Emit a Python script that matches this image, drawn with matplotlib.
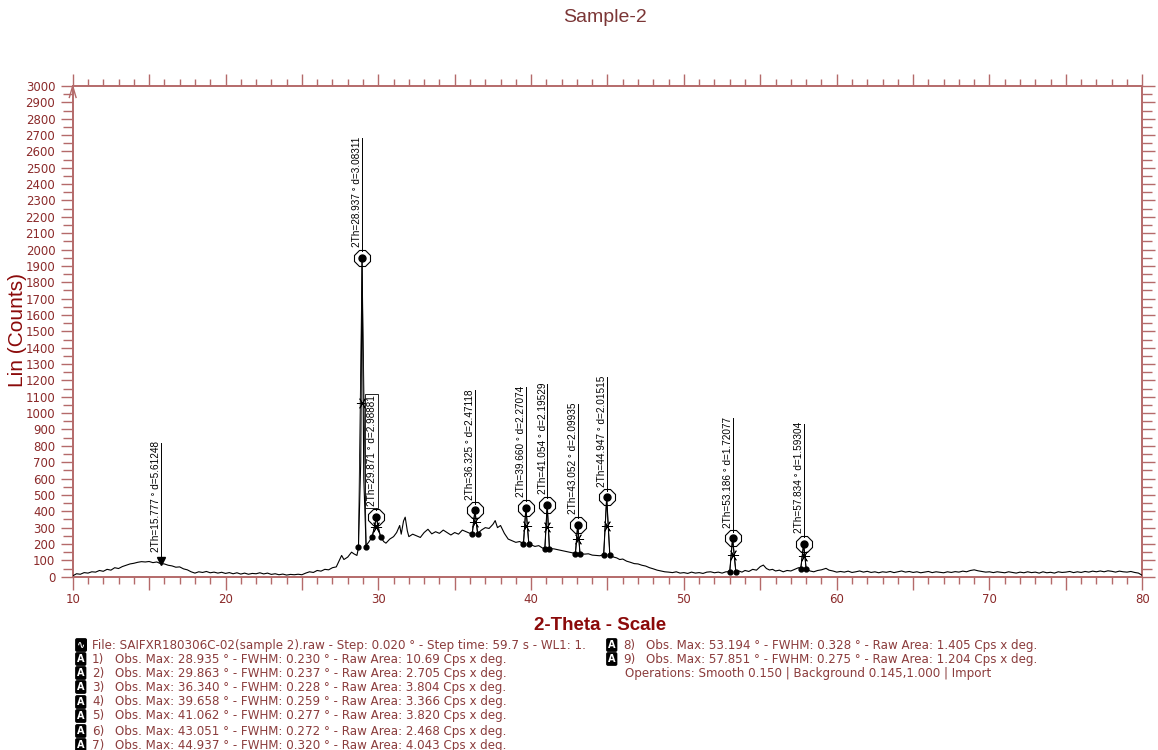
import matplotlib
matplotlib.use("Agg")
import matplotlib.pyplot as plt
from matplotlib.ticker import MultipleLocator, FuncFormatter

# scan: 2-theta (deg) and counts
two_theta = [
    10.0, 10.25, 10.5, 10.75, 11.0, 11.25, 11.5, 11.75, 12.0, 12.25, 12.5, 12.75,
    13.0, 13.25, 13.5, 13.75, 14.0, 14.25, 14.5, 14.75, 15.0, 15.25, 15.5, 15.75,
    16.0, 16.25, 16.5, 16.75, 17.0, 17.25, 17.5, 17.75, 18.0, 18.25, 18.5, 18.75,
    19.0, 19.25, 19.5, 19.75, 20.0, 20.25, 20.5, 20.75, 21.0, 21.25, 21.5, 21.75,
    22.0, 22.25, 22.5, 22.75, 23.0, 23.25, 23.5, 23.75, 24.0, 24.25, 24.5, 24.75,
    25.0, 25.25, 25.5, 25.75, 26.0, 26.25, 26.5, 26.75, 27.0, 27.25, 27.5, 27.6,
    27.75, 28.0, 28.25, 28.4, 28.6, 28.7, 28.85, 28.937, 29.05, 29.2, 29.4, 29.6,
    29.75, 29.871, 30.0, 30.15, 30.35, 30.5, 30.75, 31.0, 31.2, 31.4, 31.5, 31.65,
    31.76, 31.9, 32.0, 32.25, 32.5, 32.75, 33.0, 33.25, 33.5, 33.75, 34.0, 34.25,
    34.5, 34.75, 35.0, 35.25, 35.5, 35.75, 36.0, 36.15, 36.325, 36.5, 36.75, 37.0,
    37.25, 37.5, 37.65, 37.8, 38.0, 38.25, 38.5, 38.75, 39.0, 39.25, 39.5, 39.66,
    39.85, 40.0, 40.25, 40.5, 40.75, 40.9, 41.054, 41.2, 41.5, 41.75, 42.0, 42.25,
    42.5, 42.75, 42.9, 43.052, 43.2, 43.5, 43.75, 44.0, 44.25, 44.5, 44.75, 44.947,
    45.15, 45.4, 45.6, 45.8, 46.0, 46.25, 46.5, 46.75, 47.0, 47.25, 47.5, 47.75,
    48.0, 48.25, 48.5, 48.75, 49.0, 49.25, 49.5, 49.75, 50.0, 50.25, 50.5, 50.75,
    51.0, 51.25, 51.5, 51.75, 52.0, 52.25, 52.5, 52.75, 53.0, 53.186, 53.4, 53.6,
    53.8, 54.0, 54.25, 54.5, 54.75, 55.0, 55.2, 55.4, 55.6, 55.8, 56.0, 56.25,
    56.5, 56.75, 57.0, 57.25, 57.5, 57.65, 57.834, 58.0, 58.25, 58.5, 58.75, 59.0,
    59.3, 59.5, 59.75, 60.0, 60.25, 60.5, 60.75, 61.0, 61.25, 61.5, 61.75, 62.0,
    62.25, 62.5, 62.75, 63.0, 63.25, 63.5, 63.75, 64.0, 64.25, 64.5, 64.75, 65.0,
    65.25, 65.5, 65.75, 66.0, 66.25, 66.5, 66.75, 67.0, 67.25, 67.5, 67.75, 68.0,
    68.25, 68.5, 68.75, 69.0, 69.25, 69.5, 69.75, 70.0, 70.25, 70.5, 70.75, 71.0,
    71.25, 71.5, 71.75, 72.0, 72.25, 72.5, 72.75, 73.0, 73.25, 73.5, 73.75, 74.0,
    74.25, 74.5, 74.75, 75.0, 75.25, 75.5, 75.75, 76.0, 76.25, 76.5, 76.75, 77.0,
    77.25, 77.5, 77.75, 78.0, 78.25, 78.5, 78.75, 79.0, 79.25, 79.5, 79.75, 80.0,
]
counts = [
    5, 18, 15, 25, 22, 30, 28, 38, 33, 45, 40, 55,
    50, 62, 70, 78, 82, 88, 92, 90, 93, 86, 90, 80,
    78, 70, 66, 58, 60, 48, 42, 30, 22, 30, 26, 32,
    24, 28, 22, 27, 20, 25, 18, 24, 16, 22, 15, 20,
    18, 24, 17, 22, 14, 18, 12, 16, 10, 14, 12, 15,
    12, 22, 30, 26, 38, 34, 45, 42, 55, 60, 110, 130,
    105, 120, 150, 140, 130, 175, 700, 1950, 600, 190, 215, 245,
    300, 365, 290, 245, 215, 205, 230, 245, 270, 313, 260, 340,
    364, 280, 245, 260, 250, 240, 270, 290, 262, 275, 265, 285,
    270, 255, 270, 260, 285, 275, 265, 264, 405, 264, 285, 300,
    295, 320, 343, 300, 313, 265, 230, 220, 210, 215, 202, 423,
    202, 195, 185, 190, 175, 172, 441, 172, 170, 165, 160, 155,
    150, 145, 141, 319, 141, 138, 140, 132, 130, 128, 135, 485,
    135, 120, 115, 105, 108, 95, 88, 80, 78, 70, 65, 55,
    48, 40, 35, 30, 28, 25, 30, 22, 25, 20, 28, 22,
    25, 20, 28, 30, 24, 28, 22, 30, 30, 235, 30, 35,
    28, 38, 32, 45, 40, 62, 71, 50, 41, 45, 35, 40,
    30, 38, 35, 45, 55, 50, 200, 50, 35, 30, 38, 42,
    51, 40, 35, 28, 32, 28, 34, 26, 30, 35, 28, 33,
    26, 30, 24, 30, 27, 32, 25, 30, 35, 28, 32, 26,
    30, 24, 28, 32, 25, 30, 27, 24, 30, 26, 31, 28,
    34, 30, 38, 42, 36, 32, 28, 30, 25, 30, 27, 24,
    30, 26, 22, 28, 24, 30, 25, 28, 22, 30, 24, 27,
    22, 30, 26, 28, 32, 25, 30, 26, 32, 28, 34, 30,
    35, 30, 36, 33, 28, 34, 30, 28, 32, 26, 22, 8,
]

# identified peaks
peak_pos = [28.937, 29.871, 36.325, 39.660, 41.054, 43.052, 44.947, 53.186, 57.834]
peak_d = [3.08311, 2.98881, 2.47118, 2.27074, 2.19529, 2.09935, 2.01515, 1.72077, 1.59304]
peak_top = [1950, 365, 405, 423, 441, 319, 485, 235, 200]
peak_base = [180, 245, 264, 202, 172, 141, 135, 30, 50]
base_left = [28.70, 29.60, 36.15, 39.50, 40.90, 42.90, 44.75, 53.00, 57.65]
base_right = [29.20, 30.15, 36.50, 39.85, 41.20, 43.20, 45.15, 53.40, 58.00]

# d-line only (no peak search)
line_pos = 15.777
line_d = 5.61248
line_cnt = 80

# peak list printed below the plot
obs_max = [28.935, 29.863, 36.340, 39.658, 41.062, 43.051, 44.937, 53.194, 57.851]
fwhm = [0.230, 0.237, 0.228, 0.259, 0.277, 0.272, 0.320, 0.328, 0.275]
raw_area = ["10.69", "2.705", "3.804", "3.366", "3.820", "2.468", "4.043", "1.405", "1.204"]

AXC = "#b46a6a"
TXC = "#8b2a2a"
LBC = "#8b0a0a"
LABF = "Liberation Sans"

W, H = 1158, 750
fig = plt.figure(figsize=(W / 100, H / 100), dpi=100)
x0, x1, yb, yt = 72.7, 1142.3, 576.7, 86.0
ax = fig.add_axes([x0 / W, 1 - yb / H, (x1 - x0) / W, (yb - yt) / H])

ax.plot(two_theta, counts, color="black", lw=0.8, zorder=3)

# peak markers
for i, p in enumerate(peak_pos):
    top, base = peak_top[i], peak_base[i]
    ax.plot([base_left[i], p, base_right[i]], [base, top, base], color="black", lw=0.6, zorder=3)
    ax.plot([base_left[i], base_right[i]], [base, base], ls="none", marker="o", ms=3.5,
            color="black", zorder=4)
    ax.plot([p], [(top + base) / 2], marker=(6, 2, 90), ms=8, mec="black", mew=0.6,
            ls="none", zorder=4)
    ax.plot([p], [top], marker="8", ms=13, mfc="none", mec="black", mew=0.8, zorder=5)
    ax.plot([p], [top], marker="o", ms=5, color="black", zorder=6)
    lab_y = top + 65
    box = None
    if i == 1:
        box = dict(boxstyle="square,pad=0.15", fc="white", ec="black", lw=0.6)
    ax.text(p - 0.3, lab_y, "2Th=%.3f ° d=%.5f" % (p, peak_d[i]), rotation=90,
            ha="center", va="bottom", fontsize=7.2, family=LABF, bbox=box, zorder=7)
    ax.plot([p, p], [top + 40, lab_y + 670], color="black", lw=0.7, zorder=3)

ax.plot([line_pos, line_pos], [line_cnt + 20, 820], color="black", lw=0.7, zorder=3)
ax.plot([line_pos], [line_cnt + 15], marker="v", ms=6, color="black", zorder=4)
ax.text(line_pos - 0.3, 150, "2Th=%.3f ° d=%.5f" % (line_pos, line_d), rotation=90,
        ha="center", va="bottom", fontsize=7.2, family=LABF)

# corner arrow on the y axis
ax.plot([9.78, 10, 10.22], [2930, 3000, 2930], color=AXC, lw=1.0, clip_on=False)

ax.set_xlim(10, 80)
ax.set_ylim(0, 3000)
ax.xaxis.set_major_locator(MultipleLocator(5))
ax.xaxis.set_minor_locator(MultipleLocator(1))
ax.yaxis.set_major_locator(MultipleLocator(100))
ax.yaxis.set_minor_locator(MultipleLocator(50))
ax.xaxis.set_major_formatter(FuncFormatter(lambda v, _: "%d" % v if v % 10 == 0 else ""))
ax.tick_params(which="both", direction="out", color=AXC, width=1.0,
               top=True, right=True, labelcolor=TXC, labelsize=8.5)
ax.tick_params(which="major", length=9)
ax.tick_params(which="minor", length=5)
ax.tick_params(axis="y", which="minor", length=7)
ax.tick_params(axis="x", pad=3)
for s in ax.spines.values():
    s.set_color(AXC)
    s.set_linewidth(1.4)

fig.text(605 / W, 1 - 18 / H, "Sample-2", ha="center", va="center", fontsize=14,
         color="#7b3636", family="Liberation Sans")
fig.text(18 / W, 1 - 330 / H, "Lin (Counts)", rotation=90, ha="center", va="center",
         fontsize=15, color=LBC, family="Liberation Sans")
fig.text(600 / W, 1 - 625 / H, "2-Theta - Scale", ha="center", va="center",
         fontsize=13.5, fontweight="bold", color=LBC, family="Liberation Sans")

# peak list
LEG = "#8b3c3c"
LEGF = "DejaVu Sans"
LFS = 8.6
rows = [645, 659, 673, 687, 702, 716, 731, 745]
icon = dict(boxstyle="round,pad=0.12", fc="black", ec="black")


def put_icon(px, py, s):
    fig.text(px / W, 1 - py / H, s, ha="left", va="center", fontsize=7, color="white",
             fontweight="bold", bbox=icon)


put_icon(77, rows[0], "∿")
fig.text(92 / W, 1 - rows[0] / H,
         "File: SAIFXR180306C-02(sample 2).raw - Step: 0.020 ° - Step time: 59.7 s - WL1: 1.",
         ha="left", va="center", fontsize=LFS, color=LEG, family=LEGF)
for k in range(9):
    if k < 7:
        px, py = 77, rows[k + 1]
    else:
        px, py = 608, rows[k - 7]
    put_icon(px, py, "A")
    fig.text((px + 15) / W, 1 - py / H, "%d)" % (k + 1), ha="left", va="center",
             fontsize=LFS, color=LEG, family=LEGF)
    fig.text((px + 38) / W, 1 - py / H,
             "Obs. Max: %.3f ° - FWHM: %.3f ° - Raw Area: %s Cps x deg." % (obs_max[k], fwhm[k], raw_area[k]),
             ha="left", va="center", fontsize=LFS, color=LEG, family=LEGF)
fig.text(625 / W, 1 - rows[2] / H, "Operations: Smooth 0.150 | Background 0.145,1.000 | Import",
         ha="left", va="center", fontsize=LFS, color=LEG, family=LEGF)

fig.savefig("out.png", dpi=100)
